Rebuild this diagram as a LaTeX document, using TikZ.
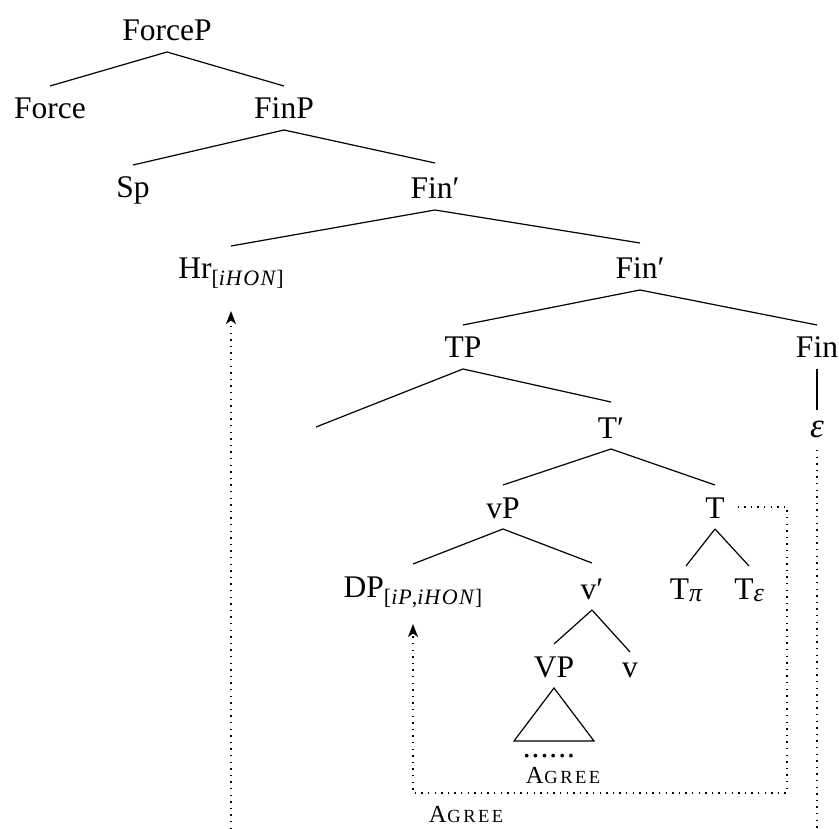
\documentclass[tikz,border=0pt]{standalone}
\usepackage{fontspec}
\setmainfont{Liberation Serif}
\usetikzlibrary{arrows.meta}
\newcommand\subx[1]{\raisebox{-7pt}{\fontsize{22}{22}\selectfont #1}}
\newcommand\subg[1]{\raisebox{-2pt}{\fontsize{26}{26}\selectfont\itshape #1}}
\newcommand\agr{{\fontsize{24.5}{24.5}\selectfont A}\kern1pt{\fontsize{18.5}{18.5}\selectfont G\kern2.5pt R\kern2.5pt E\kern2.5pt E}}
\tikzset{
  lab/.style={anchor=base, inner sep=0pt, outer sep=0pt, text height=33pt, text depth=11pt, font=\fontsize{31.5}{36}\selectfont},
  labp/.style={lab, text height=36pt},
  labv/.style={lab, text height=25pt},
  labe/.style={lab, text height=27pt},
  plain/.style={anchor=base, inner sep=0pt, outer sep=0pt},
  branch/.style={line width=1.2pt},
  agreeline/.style={line width=1.4pt, dash pattern=on 1.4pt off 5.2pt},
  agreearrow/.style={agreeline, -{Stealth[length=13pt,width=10pt,inset=3.5pt]}},
}
\begin{document}
\begin{tikzpicture}[x=1pt,y=-1pt]
\useasboundingbox (0,0) rectangle (839,829);
% nodes
\node[lab] (forceP) at (167,41) {ForceP};
\node[lab] (force) at (50,119) {Force};
\node[lab] (finP) at (284,119) {FinP};
\node[lab] (sp) at (133,198) {Sp};
\node[labp] (finbar1) at (435,199) {Fin′};
\node[lab] (hr) at (231,279) {Hr\subx{[\textit{i\kern1pt H\kern1.5pt O\kern1.5pt N}]}};
\node[labp] (finbar2) at (640,279) {Fin′};
\node[lab] (tp) at (463,358) {TP};
\node[lab] (fin) at (817,358) {Fin};
\coordinate (spec) at (316,427);
\node[labp] (tbar) at (611,438) {T′};
\node[labe, font=\fontsize{35}{40}\selectfont] (eps) at (817,437) {\textit{ε}};
\node[lab] (vPn) at (503,518) {vP};
\node[lab] (tn) at (715,518) {T};
\node[lab] (dp) at (413,597) {DP\subx{[\textit{i\kern1pt P},\textit{i\kern1pt H\kern1.5pt O\kern1.5pt N}]}};
\node[labp] (vbar) at (592,599) {v′};
\node[lab] (tpi) at (686,599) {T\subg{π}};
\node[lab] (teps) at (749,599) {T\subg{ε}};
\node[lab] (VPn) at (554,677) {VP};
\node[labv] (vn) at (630,677) {v};
\node[plain, text depth=0pt, font=\fontsize{31.5}{36}\selectfont] (dots) at (549,757) {.\kern1pt.\kern1pt.\kern1pt.\kern1pt.\kern1pt.};
\node[plain] (agree1) at (563,783) {\agr};
\node[plain] (agree2) at (466,822) {\agr};
% branches
\draw[branch] (forceP.south) -- (force.north);
\draw[branch] (forceP.south) -- (finP.north);
\draw[branch] (finP.south) -- (sp.north);
\draw[branch] (finP.south) -- (finbar1.north);
\draw[branch] (finbar1.south) -- (hr.north);
\draw[branch] (finbar1.south) -- (finbar2.north);
\draw[branch] (finbar2.south) -- (tp.north);
\draw[branch] (finbar2.south) -- (fin.north);
\draw[branch] (fin.south) -- (eps.north);
\draw[branch] (tp.south) -- (spec);
\draw[branch] (tp.south) -- (tbar.north);
\draw[branch] (tbar.south) -- (vPn.north);
\draw[branch] (tbar.south) -- (tn.north);
\draw[branch] (vPn.south) -- (dp.north);
\draw[branch] (vPn.south) -- (vbar.north);
\draw[branch] (tn.south) -- (tpi.north);
\draw[branch] (tn.south) -- (teps.north);
\draw[branch] (vbar.south) -- (VPn.north);
\draw[branch] (vbar.south) -- (vn.north);
\draw[branch] (VPn.south) -- ++(-40,53) -- ++(80,0) -- cycle;
% agree lines
\coordinate (c1) at (787,507);
\coordinate (c2) at (787,793);
\coordinate (c3) at (413,793);
\coordinate (hrbot) at (231,829);
\coordinate (epsbot) at (817,829);
\draw[agreearrow, shorten <=13pt, shorten >=16pt] (tn.east) -- (c1) -- (c2) -- (c3) -- (dp.south);
\draw[agreearrow, shorten >=21pt] (hrbot) -- (hr.south);
\draw[agreeline, shorten <=2pt] (eps.south) -- (epsbot);
\end{tikzpicture}
\end{document}
